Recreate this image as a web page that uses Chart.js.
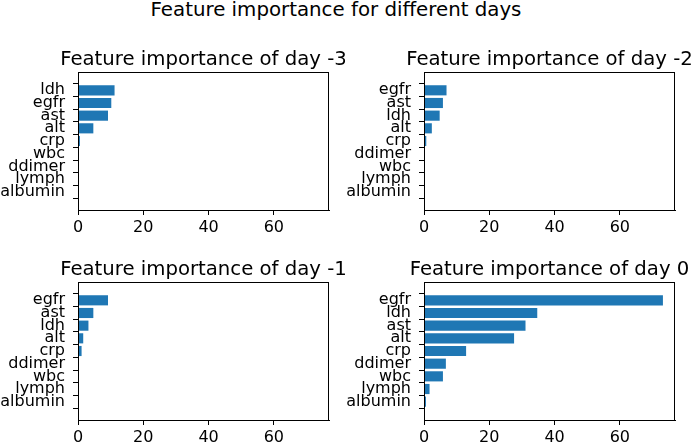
<!DOCTYPE html>
<html>
<head>
<meta charset="utf-8">
<script src="https://cdn.jsdelivr.net/npm/chart.js@4.4.1/dist/chart.umd.min.js"></script>
<style>
  body { margin: 0; background: #fff; }
  #fig { position: relative; width: 694px; height: 445px; overflow: hidden; font-family: "DejaVu Sans", sans-serif; }
  #suptitle { position: absolute; left: 0; top: 0; width: 672px; text-align: center; font-size: 19.8px; line-height: 19px; color: #000; }
  canvas { position: absolute; }
</style>
</head>
<body>
<div id="fig">
  <div id="suptitle">Feature importance for different days</div>
  <canvas id="c3" style="left:0px;top:40px;width:345px;height:205px" width="345" height="205"></canvas>
  <canvas id="c2" style="left:346px;top:40px;width:348px;height:205px" width="348" height="205"></canvas>
  <canvas id="c1" style="left:0px;top:250px;width:345px;height:195px" width="345" height="195"></canvas>
  <canvas id="c0" style="left:346px;top:250px;width:348px;height:195px" width="348" height="195"></canvas>
</div>
<script>
// feature order top to bottom, as in the picture
const day3Features = ["ldh", "egfr", "ast", "alt", "crp", "wbc", "ddimer", "lymph", "albumin"];
const day3Values   = [11.2, 10.2, 9.2, 4.7, 0.6, 0, 0, 0, 0];

const day2Features = ["egfr", "ast", "ldh", "alt", "crp", "ddimer", "wbc", "lymph", "albumin"];
const day2Values   = [6.9, 5.8, 4.8, 2.4, 0.7, 0, 0, 0, 0];

const day1Features = ["egfr", "ast", "ldh", "alt", "crp", "ddimer", "wbc", "lymph", "albumin"];
const day1Values   = [9.2, 4.7, 3.2, 1.6, 1.1, 0, 0, 0, 0];

const day0Features = ["egfr", "ldh", "ast", "alt", "crp", "ddimer", "wbc", "lymph", "albumin"];
const day0Values   = [73.2, 34.7, 31.1, 27.6, 12.9, 6.7, 5.8, 1.7, 0.6];

const xTicks = [0, 20, 40, 60];
const xMax = 76.9;

const boxAndTitle = {
    id: "boxAndTitle",
    afterDatasetsDraw(chart, args, opts) {
        const a = chart.chartArea;
        const ctx = chart.ctx;
        ctx.save();
        ctx.strokeStyle = "#000";
        ctx.lineWidth = 1;
        ctx.strokeRect(Math.round(a.left) + 0.5, Math.round(a.top) + 0.5,
            Math.round(a.right - a.left) - 1, Math.round(a.bottom - a.top));
        ctx.fillStyle = "#000";
        ctx.font = '19.7px "DejaVu Sans"';
        ctx.textAlign = "center";
        ctx.textBaseline = "alphabetic";
        ctx.fillText(opts.text, (a.left + a.right) / 2, a.top - 7);
        ctx.restore();
    }
};

function createChart(id, title, features, values, canvasH) {
    const ctx = document.getElementById(id);
    return new Chart(ctx, {
        type: "bar",
        data: {
            datasets: [{
                data: features.map((f, i) => ({ x: values[i], y: i })),
                backgroundColor: "#1f77b4",
                borderWidth: 0,
                barPercentage: 0.8,
                categoryPercentage: 1.0
            }]
        },
        options: {
            indexAxis: "y",
            responsive: false,
            animation: false,
            layout: { padding: { left: 0, top: 32, right: ctx.width - 329, bottom: canvasH - 170 - 25 } },
            plugins: {
                legend: { display: false },
                tooltip: { enabled: false },
                boxAndTitle: { text: title }
            },
            scales: {
                x: {
                    type: "linear",
                    min: 0,
                    max: xMax,
                    afterBuildTicks: s => { s.ticks = xTicks.map(v => ({ value: v })); },
                    afterFit: s => { s.height = 25; },
                    grid: { drawOnChartArea: false, drawTicks: true, tickLength: 5, tickColor: "#000" },
                    border: { display: true, color: "#000" },
                    ticks: { color: "#000", font: { family: "DejaVu Sans", size: 16 }, padding: 3, maxRotation: 0 }
                },
                y: {
                    type: "linear",
                    reverse: true,
                    min: -0.84,
                    max: 8.84,
                    afterBuildTicks: s => { s.ticks = features.map((f, i) => ({ value: i })); },
                    afterFit: s => { s.width = 78; },
                    grid: { drawOnChartArea: false, drawTicks: true, tickLength: 5, tickColor: "#000" },
                    border: { display: true, color: "#000" },
                    ticks: {
                        color: "#000",
                        font: { family: "DejaVu Sans", size: 16 },
                        padding: 8,
                        autoSkip: false,
                        callback: v => features[v]
                    }
                }
            }
        },
        plugins: [boxAndTitle]
    });
}

createChart("c3", "Feature importance of day -3", day3Features, day3Values, 205);
createChart("c2", "Feature importance of day -2", day2Features, day2Values, 205);
createChart("c1", "Feature importance of day -1", day1Features, day1Values, 195);
createChart("c0", "Feature importance of day 0", day0Features, day0Values, 195);
</script>
</body>
</html>
